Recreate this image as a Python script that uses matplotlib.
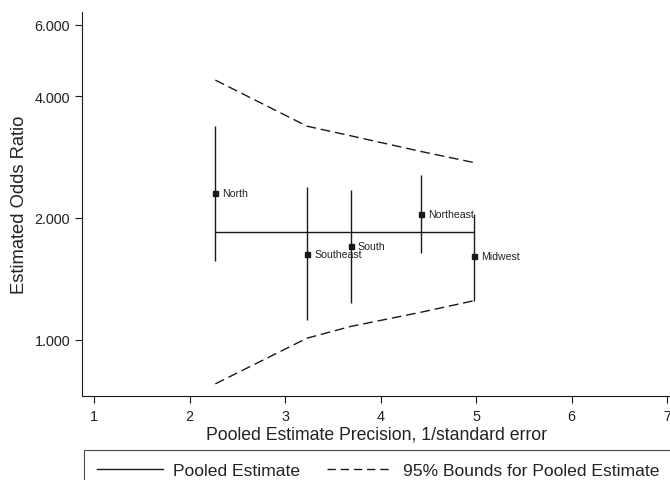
import matplotlib
matplotlib.use("Agg")
import matplotlib.pyplot as plt
from matplotlib.lines import Line2D

plt.rcParams['font.family'] = ['Liberation Sans', 'DejaVu Sans']

regions = ["North", "Southeast", "South", "Northeast", "Midwest"]
precision = [2.27, 3.23, 3.69, 4.42, 4.98]
odds = [2.30, 1.63, 1.71, 2.05, 1.61]
ci_low = [1.57, 1.12, 1.23, 1.64, 1.25]
ci_high = [3.37, 2.39, 2.35, 2.55, 2.05]

pooled = 1.847
bound_x = [2.27, 3.23, 3.69, 4.42, 4.98]
upper_bound = [4.38, 3.37, 3.19, 2.92, 2.74]
lower_bound = [0.779, 1.01, 1.08, 1.17, 1.25]

yticks = [1, 2, 4, 6]
ytick_labels = ["1.000", "2.000", "4.000", "6.000"]
xticks = [1, 2, 3, 4, 5, 6, 7]

col = '#1a1a1a'
fig = plt.figure(figsize=(6.7, 4.81), dpi=100)
ax = fig.add_axes([82/670, 1-397/481, 588/670, (397-13)/481])
ax.set_yscale('log')

# pooled estimate
ax.plot([precision[0], precision[-1]], [pooled, pooled], color=col, lw=1.0, solid_capstyle='butt')
# bounds
ax.plot(bound_x, upper_bound, color=col, lw=1.0, dashes=(7, 3.5))
ax.plot(bound_x, lower_bound, color=col, lw=1.0, dashes=(7, 3.5))
# CIs
ax.vlines(precision, ci_low, ci_high, color=col, lw=1.0)
ax.plot(precision, odds, 's', color=col, ms=3.6, linestyle='none')
for x, y, name in zip(precision, odds, regions):
    ax.annotate(name, (x, y), xytext=(5, 0), textcoords='offset points',
                fontsize=7.6, va='center', ha='left', color='#222222')

ax.set_xlim(0.874, 7.03)
ax.set_ylim(0.727, 6.45)
ax.set_yticks(yticks)
ax.set_yticklabels(ytick_labels)
ax.yaxis.set_minor_locator(matplotlib.ticker.NullLocator())
ax.set_xticks(xticks)
ax.set_xticklabels([str(t) for t in xticks])
ax.tick_params(labelsize=10.4, length=5, width=0.8, color=col, labelcolor='#222222')
ax.tick_params(axis='x', pad=4.5)
for s in ['top', 'right']:
    ax.spines[s].set_visible(False)
for s in ['left', 'bottom']:
    ax.spines[s].set_linewidth(0.8)
    ax.spines[s].set_color(col)

ax.set_xlabel("Pooled Estimate Precision, 1/standard error", fontsize=12.7, labelpad=1.5, color='#222222')
ax.set_ylabel("Estimated Odds Ratio", fontsize=13.2, labelpad=5, color='#222222')

handles = [Line2D([], [], color=col, lw=1.0),
           Line2D([], [], color=col, lw=1.0, dashes=(6, 3.5))]
leg = fig.legend(handles, ["Pooled Estimate", "95% Bounds for Pooled Estimate"],
                 loc='upper left', bbox_to_anchor=(84/670, 1-451/481), ncol=2,
                 fontsize=12.6, frameon=True, fancybox=False, edgecolor=col,
                 handlelength=3.77, handletextpad=0.57, columnspacing=1.54,
                 borderaxespad=0, borderpad=0.75)
leg.get_frame().set_linewidth(0.8)
for t in leg.get_texts():
    t.set_color('#222222')

fig.savefig("out.png", dpi=100)
